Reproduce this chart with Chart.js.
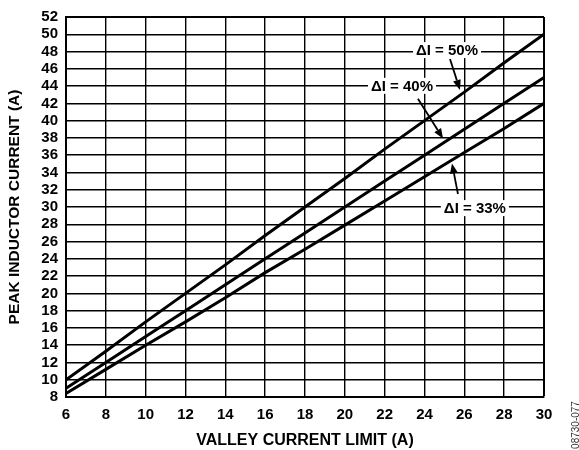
<!DOCTYPE html>
<html><head><meta charset="utf-8">
<script src="https://cdn.jsdelivr.net/npm/chart.js@4"></script>
<style>html,body{margin:0;padding:0;background:#fff}#wrap{width:579px;height:450px;position:relative}</style>
</head><body><div id="wrap"><canvas id="c" width="579" height="450"></canvas></div>
<script>
const valley = [6, 8, 10, 12, 14, 16, 18, 20, 22, 24, 26, 28, 30];
const peak50 = [10, 13.3, 16.7, 20, 23.3, 26.7, 30, 33.3, 36.7, 40, 43.3, 46.7, 50];
const peak40 = [9, 12, 15, 18, 21, 24, 27, 30, 33, 36, 39, 42, 45];
const peak33 = [8.4, 11.2, 14, 16.7, 19.5, 22.4, 25.1, 27.9, 30.7, 33.5, 36.3, 39.1, 42];
const seriesLabels = ["ΔI = 50%", "ΔI = 40%", "ΔI = 33%"];
const xTicks = [6, 8, 10, 12, 14, 16, 18, 20, 22, 24, 26, 28, 30];
const yTicks = [8, 10, 12, 14, 16, 18, 20, 22, 24, 26, 28, 30, 32, 34, 36, 38, 40, 42, 44, 46, 48, 50, 52];

const FONT = "'Liberation Sans', Arial, sans-serif";
const mk = (arr) => valley.map((v, i) => ({x: v, y: arr[i]}));

const callouts = [
  {text: seriesLabels[0], lx: 25.13, ly: 48.17, from: [25.28, 47.13], to: [25.78, 43.56]},
  {text: seriesLabels[1], lx: 22.87, ly: 44.03, from: [23.67, 42.53], to: [24.93, 37.93]},
  {text: seriesLabels[2], lx: 26.53, ly: 29.87, from: [25.68, 31.5], to: [25.38, 35.05]}
];

const calloutPlugin = {
  id: 'callouts',
  afterDatasetsDraw(chart) {
    const ctx = chart.ctx, xs = chart.scales.x, ys = chart.scales.y;
    ctx.save();
    ctx.font = "bold 15px " + FONT;
    ctx.textAlign = 'center';
    ctx.textBaseline = 'middle';
    callouts.forEach(c => {
      const px = xs.getPixelForValue(c.lx), py = ys.getPixelForValue(c.ly);
      const w = ctx.measureText(c.text).width;
      ctx.fillStyle = '#fff';
      ctx.fillRect(px - w / 2 - 3, py - 8, w + 6, 16);
      ctx.fillStyle = '#000';
      ctx.fillText(c.text, px, py + 1);
      const x1 = xs.getPixelForValue(c.from[0]), y1 = ys.getPixelForValue(c.from[1]);
      const x2 = xs.getPixelForValue(c.to[0]), y2 = ys.getPixelForValue(c.to[1]);
      const ang = Math.atan2(y2 - y1, x2 - x1);
      const hl = 10, hw = 4;
      const bx = x2 - hl * Math.cos(ang), by = y2 - hl * Math.sin(ang);
      ctx.strokeStyle = '#000';
      ctx.lineWidth = 1.8;
      ctx.beginPath(); ctx.moveTo(x1, y1); ctx.lineTo(bx, by); ctx.stroke();
      ctx.beginPath();
      ctx.moveTo(x2, y2);
      ctx.lineTo(bx + hw * Math.sin(ang), by - hw * Math.cos(ang));
      ctx.lineTo(bx - hw * Math.sin(ang), by + hw * Math.cos(ang));
      ctx.closePath(); ctx.fillStyle = '#000'; ctx.fill();
    });
    // side figure code
    ctx.translate(576, 425);
    ctx.rotate(-Math.PI / 2);
    ctx.font = "10px " + FONT;
    ctx.fillStyle = '#333';
    ctx.fillText("08730-077", 0, 0);
    ctx.restore();
  }
};

const lineDs = (arr) => ({data: mk(arr), borderColor: '#000', borderWidth: 3, pointRadius: 0, fill: false, tension: 0});

new Chart(document.getElementById('c'), {
  type: 'line',
  data: {datasets: [lineDs(peak50), lineDs(peak40), lineDs(peak33)]},
  options: {
    responsive: false, animation: false, devicePixelRatio: 1,
    layout: {padding: {left: 0, right: 35, top: 12, bottom: 0}},
    plugins: {legend: {display: false}, tooltip: {enabled: false}},
    scales: {
      x: {
        type: 'linear', min: 6, max: 30,
        afterBuildTicks: (s) => { s.ticks = xTicks.map(v => ({value: v})); },
        afterFit: (s) => { s.height = 53; },
        grid: {color: '#000', lineWidth: (c) => (c.index === xTicks.length - 1 ? 2 : 1.4), drawTicks: false},
        border: {color: '#000', width: 2},
        ticks: {color: '#000', font: {family: FONT, size: 15, weight: 'bold'}, padding: 9, maxRotation: 0},
        title: {display: true, text: 'VALLEY CURRENT LIMIT (A)', color: '#000', font: {family: FONT, size: 16, weight: 'bold'}, padding: {top: 6, bottom: 0}}
      },
      y: {
        type: 'linear', min: 8, max: 52,
        afterBuildTicks: (s) => { s.ticks = yTicks.map(v => ({value: v})); },
        afterFit: (s) => { s.width = 66; },
        grid: {color: '#000', lineWidth: (c) => (c.index === yTicks.length - 1 ? 2 : 1.4), drawTicks: false},
        border: {color: '#000', width: 2},
        ticks: {color: '#000', font: {family: FONT, size: 15, weight: 'bold'}, padding: 8, autoSkip: false},
        title: {display: true, text: 'PEAK INDUCTOR CURRENT (A)', color: '#000', font: {family: FONT, size: 15.5, weight: 'bold'}, padding: {top: 5, bottom: 6}}
      }
    }
  },
  plugins: [calloutPlugin]
});
</script></body></html>
